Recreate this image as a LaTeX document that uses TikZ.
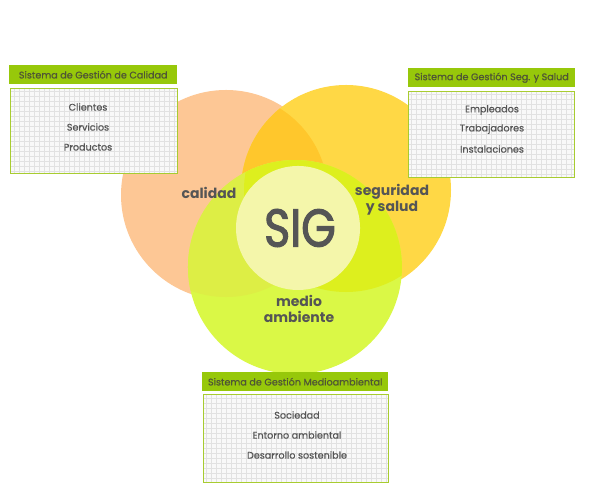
\documentclass[tikz,border=0pt]{standalone}
\usepackage{fontspec}
\setmainfont{Poppins}
\newfontface\sigfont[FakeBold=2.4]{Poppins}
\newfontface\medfont[FakeBold=0.7]{Poppins}
\usetikzlibrary{fadings}
\pgfdeclareradialshading{softshade}{\pgfpointorigin}{color(0bp)=(white); color(45bp)=(white); color(50bp)=(black)}
\pgfdeclarefading{softcircle}{\pgfuseshading{softshade}}
\pgfdeclareradialshading{softershade}{\pgfpointorigin}{color(0bp)=(white); color(38bp)=(white); color(50bp)=(black)}
\pgfdeclarefading{softercircle}{\pgfuseshading{softershade}}
\definecolor{orangec}{HTML}{FDC795}
\definecolor{yellowc}{HTML}{FFD845}
\definecolor{oyc}{HTML}{FFC72C}
\definecolor{greenc}{HTML}{DAF846}
\definecolor{ogc}{HTML}{DDEE45}
\definecolor{ygc}{HTML}{DDEF1E}
\definecolor{centerc}{HTML}{F4F6AA}
\definecolor{hdrc}{HTML}{97C80A}
\definecolor{boxborder}{HTML}{A8CC30}
\definecolor{gridc}{HTML}{E2E2E2}
\definecolor{gridbg}{HTML}{F9F9F9}
\definecolor{textc}{HTML}{555555}
\definecolor{hdrtext}{HTML}{4F5535}
\begin{document}
\begin{tikzpicture}[x=1pt,y=-1pt,
  fz/.style={path fading=softcircle},
  hdr/.style={fill=hdrc, anchor=north west, inner sep=0pt, minimum height=19pt, text=hdrtext, font=\fontsize{9.6}{11}\medfont},
  cbox/.style={draw=boxborder, line width=0.8pt, fill=gridbg, anchor=north west, inner sep=0pt,
    path picture={\draw[gridc, line width=0.4pt, step=5pt] (path picture bounding box.south west) grid (path picture bounding box.north east);}},
  item/.style={text=textc, font=\fontsize{9.6}{11}\medfont},
  lbl/.style={text=textc, font=\fontsize{14}{16}\selectfont\bfseries, align=center}]
\useasboundingbox (0,0) rectangle (600,500);
\fill[white] (0,0) rectangle (600,500);
% circles
\fill[orangec, fz] (226,195) circle[radius=105];
\fill[yellowc, fz] (346,190) circle[radius=105];
\begin{scope}
  \clip (226,195) circle[radius=102];
  \fill[oyc, fz] (346,190) circle[radius=105];
\end{scope}
\fill[greenc, fz] (295,267) circle[radius=107];
\begin{scope}
  \clip (226,195) circle[radius=102];
  \fill[ogc, fz] (295,267) circle[radius=107];
\end{scope}
\begin{scope}
  \clip (346,190) circle[radius=102];
  \fill[ygc, fz] (295,267) circle[radius=107];
\end{scope}
\fill[centerc, path fading=softercircle] (298,228) circle[radius=62];
% labels
\node[lbl] (calidad) at (209,193) {calidad};
\node[lbl] (seg) at (392,200) {seguridad\\y salud};
\node[lbl] (medio) at (299,309) {medio\\ambiente};
\node[text=textc, font=\fontsize{53}{53}\sigfont, inner sep=0pt] (sig) at (300,228) {\scalebox{0.84}[1]{SIG}};
% box 1
\node[hdr, minimum width=168pt] (h1) at (9,65) {Sistema de Gestión de Calidad};
\node[cbox, minimum width=167pt, minimum height=85pt] (c1) at (10,88) {};
\node[item] (c1a) at (88,107) {Clientes};
\node[item] (c1b) at (88,127) {Servicios};
\node[item] (c1c) at (88,147) {Productos};
% box 2
\node[hdr, minimum width=167pt] (h2) at (408,68) {Sistema de Gestión Seg. y Salud};
\node[cbox, minimum width=166pt, minimum height=86pt] (c2) at (408,91) {};
\node[item] (c2a) at (492,110) {Empleados};
\node[item] (c2b) at (492,129) {Trabajadores};
\node[item] (c2c) at (492,149) {Instalaciones};
% box 3
\node[hdr, minimum width=186pt] (h3) at (202,372) {Sistema de Gestión Medioambiental};
\node[cbox, minimum width=185pt, minimum height=88pt] (c3) at (203,394) {};
\node[item] (c3a) at (297,415) {Sociedad};
\node[item] (c3b) at (297,435) {Entorno ambiental};
\node[item] (c3c) at (297,455) {Desarrollo sostenible};
\end{tikzpicture}
\end{document}
